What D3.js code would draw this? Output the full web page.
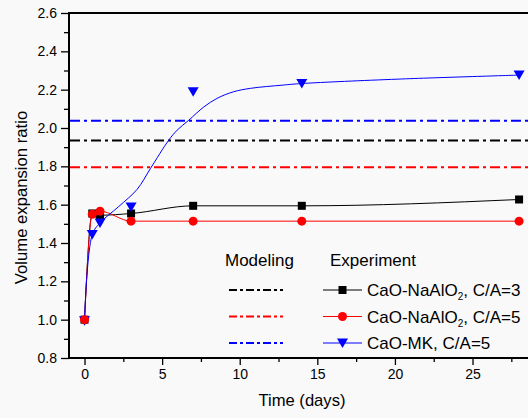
<!DOCTYPE html>
<html>
<head>
<meta charset="utf-8">
<script src="https://cdn.jsdelivr.net/npm/d3@7"></script>
<style>
  html, body { margin: 0; padding: 0; background: #f9f9f9; }
  svg { display: block; font-family: "Liberation Sans", Arial, sans-serif; }
</style>
</head>
<body>
<svg id="chart" width="528" height="418"></svg>
<script>
// ---- data ----
const days = [0, 0.5, 1, 3, 7, 14, 28];
const naAlO2C3 = [1.0, 1.554, 1.545, 1.554, 1.594, 1.594, 1.627];
const naAlO2C5 = [1.0, 1.550, 1.566, 1.514, 1.514, 1.514, 1.514];
const mkC5 = [0.995, 1.444, 1.505, 1.588, 2.189, 2.232, 2.276];
// smooth fitted curve drawn for CaO-MK
const mkFitDays = [0, 0.5, 1, 2.2, 3.39, 4.25, 5.43, 5.97, 6.72, 7.69, 8.55, 9.6, 10.7, 12.8, 14, 20.2, 28];
const mkFitVals = [1.0, 1.444, 1.505, 1.59, 1.68, 1.789, 1.937, 1.989, 2.041, 2.11, 2.155, 2.189, 2.207, 2.224, 2.232, 2.255, 2.276];
// modeling levels
const modelNames = ["CaO-NaAlO2, C/A=3", "CaO-NaAlO2, C/A=5", "CaO-MK, C/A=5"];
const modelLevels = [1.935, 1.795, 2.038];
const xTicks = [0, 5, 10, 15, 20, 25];
const yTicks = [0.8, 1.0, 1.2, 1.4, 1.6, 1.8, 2.0, 2.2, 2.4, 2.6];

const colors = ["#000000", "#ff0000", "#0000ff"];

const svg = d3.select("#chart");
const mLeft = 69, mTop = 13, mBottom = 358;
const x = d3.scaleLinear().domain([-1, 30]).range([mLeft, mLeft + 31 * 15.52]);
const y = d3.scaleLinear().domain([0.8, 2.6]).range([mBottom, mTop]);

// plot frame: top line
svg.append("line").attr("x1", mLeft).attr("x2", 528).attr("y1", mTop).attr("y2", mTop)
  .attr("stroke", "#000").attr("stroke-width", 2);

// modeling lines
const dash = "10,4,3,4";
modelLevels.forEach((v, i) => {
  svg.append("line").attr("x1", mLeft + 1).attr("x2", 528)
    .attr("y1", y(v)).attr("y2", y(v))
    .attr("stroke", colors[i]).attr("stroke-width", 2)
    .attr("stroke-dasharray", dash);
});

// axes
const minorX = d3.range(0, 30, 2.5).filter(d => d % 5 !== 0);
const gx = svg.append("g").attr("transform", `translate(0,${mBottom})`);
gx.call(d3.axisBottom(x).tickValues(xTicks).tickSize(7).tickPadding(4).tickFormat(d3.format("d")));
gx.append("g").call(d3.axisBottom(x).tickValues(minorX).tickSize(4).tickFormat(""));
gx.selectAll(".domain").remove();
gx.append("line").attr("x1", mLeft - 1).attr("x2", 528).attr("stroke", "#000").attr("stroke-width", 2);
gx.selectAll(".tick line").attr("stroke-width", 1.3);
gx.selectAll("text").attr("font-size", 14).attr("fill", "#000")
  .attr("font-family", "Liberation Sans, Arial, sans-serif");

const minorY = d3.range(0.9, 2.6, 0.2);
const gy = svg.append("g").attr("transform", `translate(${mLeft},0)`);
gy.call(d3.axisLeft(y).tickValues(yTicks).tickSize(8).tickPadding(4).tickFormat(d3.format(".1f")));
gy.append("g").call(d3.axisLeft(y).tickValues(minorY).tickSize(5).tickFormat(""));
gy.selectAll(".domain").remove();
gy.append("line").attr("y1", mTop - 1).attr("y2", mBottom + 1).attr("stroke", "#000").attr("stroke-width", 2);
gy.selectAll(".tick line").attr("stroke-width", 1.3);
gy.selectAll("text").attr("font-size", 14).attr("fill", "#000")
  .attr("font-family", "Liberation Sans, Arial, sans-serif");

// axis titles
svg.append("text").attr("x", 302).attr("y", 406).attr("text-anchor", "middle")
  .attr("font-size", 16.6).text("Time (days)");
svg.append("text").attr("transform", "translate(27,197.5) rotate(-90)").attr("text-anchor", "middle")
  .attr("font-size", 16.7).text("Volume expansion ratio");

// experiment curves
const lineMono = d3.line().x(d => x(d[0])).y(d => y(d[1])).curve(d3.curveMonotoneX);
const lineSmooth = d3.line().x(d => x(d[0])).y(d => y(d[1])).curve(d3.curveCatmullRom.alpha(0.5));
const series = [naAlO2C3, naAlO2C5, mkC5];
svg.append("path").datum(days.map((d, i) => [d, naAlO2C3[i]]))
  .attr("d", lineMono).attr("fill", "none").attr("stroke", colors[0]).attr("stroke-width", 1);
svg.append("path").datum(days.map((d, i) => [d, naAlO2C5[i]]))
  .attr("d", lineMono).attr("fill", "none").attr("stroke", colors[1]).attr("stroke-width", 1);
svg.append("path").datum(mkFitDays.map((d, i) => [d, mkFitVals[i]]))
  .attr("d", lineSmooth).attr("fill", "none").attr("stroke", colors[2]).attr("stroke-width", 1);

// markers
function marker(g, kind, cx, cy, color) {
  if (kind === 0) {
    g.append("rect").attr("x", cx - 4).attr("y", cy - 4).attr("width", 8).attr("height", 8).attr("fill", color);
  } else if (kind === 1) {
    g.append("circle").attr("cx", cx).attr("cy", cy).attr("r", 4.5).attr("fill", color);
  } else {
    g.append("path").attr("d", `M${cx - 5.5},${cy - 4.5}L${cx + 5.5},${cy - 4.5}L${cx},${cy + 5}Z`).attr("fill", color);
  }
}
const mg = svg.append("g");
[0, 2, 1].forEach(s => {
  days.forEach((d, i) => marker(mg, s, x(d), y(series[s][i]), colors[s]));
});

// legend
const lg = svg.append("g").attr("font-size", 17).attr("fill", "#000");
lg.append("text").attr("x", 225).attr("y", 266).text("Modeling");
lg.append("text").attr("x", 330).attr("y", 266).text("Experiment");
const rowY = [290, 316.5, 343];
modelNames.forEach((name, i) => {
  lg.append("line").attr("x1", 229).attr("x2", 283).attr("y1", rowY[i]).attr("y2", rowY[i])
    .attr("stroke", colors[i]).attr("stroke-width", 2).attr("stroke-dasharray", "8,3,3,3");
  lg.append("line").attr("x1", 323).attr("x2", 362).attr("y1", rowY[i]).attr("y2", rowY[i])
    .attr("stroke", colors[i]).attr("stroke-width", 1);
  marker(lg, i, 342.5, rowY[i], colors[i]);
  const t = lg.append("text").attr("x", 367).attr("y", rowY[i] + 6.3);
  const m = name.match(/^(.*?)2(, .*)$/);
  if (m && name.indexOf("NaAlO2") >= 0) {
    t.append("tspan").text(m[1]);
    t.append("tspan").attr("font-size", 10).attr("dy", 4).text("2");
    t.append("tspan").attr("dy", -4).text(m[2]);
  } else {
    t.text(name);
  }
});
</script>
</body>
</html>
